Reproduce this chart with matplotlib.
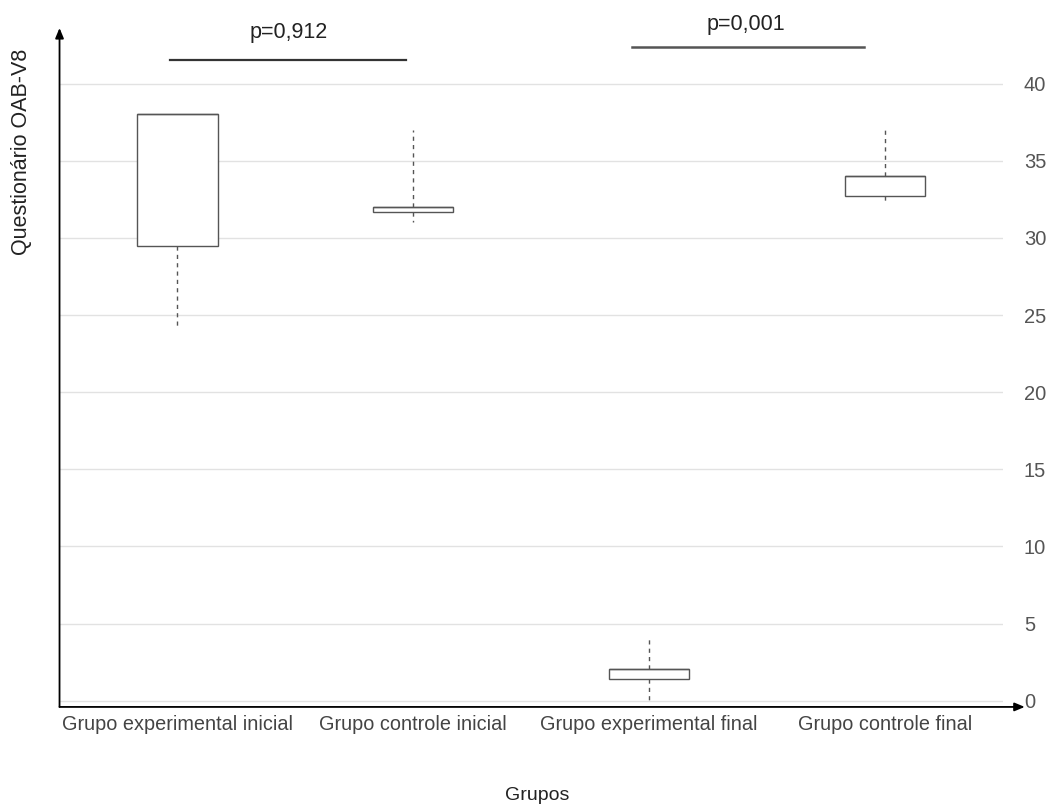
import matplotlib
matplotlib.use("Agg")
import matplotlib.pyplot as plt

groups = ['Grupo experimental inicial', 'Grupo controle inicial',
          'Grupo experimental final', 'Grupo controle final']
whislo = [24.2, 31.0, 0.0, 32.2]
q1 = [29.5, 31.7, 1.4, 32.7]
med = [38.0, 32.0, 2.05, 34.0]
q3 = [38.0, 32.0, 2.05, 34.0]
whishi = [38.0, 37.0, 4.0, 37.0]
yticks = [0, 5, 10, 15, 20, 25, 30, 35, 40]
pvals = ['p=0,912', 'p=0,001']

plt.rcParams['font.family'] = ['Liberation Sans', 'DejaVu Sans']

fig = plt.figure(figsize=(10.48, 8.07), dpi=100)
ax = fig.add_axes([0.0568, 0.124, 0.9003, 0.8413])

stats = []
for i, g in enumerate(groups):
    stats.append(dict(label=g, whislo=whislo[i], q1=q1[i], med=med[i],
                      q3=q3[i], whishi=whishi[i], fliers=[]))

boxc = '#555555'
ax.bxp(stats, positions=range(len(groups)), widths=0.34, showcaps=False,
       showfliers=False, patch_artist=True,
       boxprops=dict(facecolor='white', edgecolor=boxc, linewidth=1.0),
       whiskerprops=dict(color=boxc, linewidth=1.0, linestyle=(0, (3, 3))),
       medianprops=dict(color=boxc, linewidth=1.0), zorder=3)

ax.set_xlim(-0.5, 3.5)
ax.set_ylim(-0.4, 43.6)
ax.set_yticks(yticks)
ax.yaxis.tick_right()
ax.tick_params(axis='y', length=0, pad=15, labelsize=14.5, labelcolor='#555555')
ax.tick_params(axis='x', length=0, pad=6, labelsize=14.3, labelcolor='#444444')
ax.set_xticks(range(len(groups)))
ax.set_xticklabels(groups)
for y in yticks:
    ax.axhline(y, color='#e2e2e2', linewidth=1.0, zorder=1)

for s in ax.spines.values():
    s.set_visible(False)

# arrow axes
ax.annotate('', xy=(0, 1.0), xytext=(0, 0), xycoords='axes fraction',
            arrowprops=dict(arrowstyle='-|>,head_length=0.6,head_width=0.25',
                            color='black', lw=1.3, shrinkA=0, shrinkB=0))
ax.annotate('', xy=(1.023, 0), xytext=(0, 0), xycoords='axes fraction',
            arrowprops=dict(arrowstyle='-|>,head_length=0.6,head_width=0.25',
                            color='black', lw=1.3, shrinkA=0, shrinkB=0))

# significance bars
ax.plot([-0.03, 0.97], [41.55, 41.55], color='#333333', lw=1.6, clip_on=False)
ax.plot([1.925, 2.91], [42.35, 42.35], color='#555555', lw=1.8, clip_on=False)
ax.text(0.47, 43.3, pvals[0], ha='center', va='center', fontsize=15.5, color='#222222')
ax.text(2.41, 43.8, pvals[1], ha='center', va='center', fontsize=15.5, color='#222222')

fig.text(22 / 1048, 1 - 152 / 807, 'Questionário OAB-V8', rotation=90,
         ha='center', va='center', fontsize=15.5, color='#222222')
fig.text(537 / 1048, 1 - 795 / 807, 'Grupos', ha='center', va='center',
         fontsize=14, color='#222222')

fig.savefig('out.png', dpi=100)
